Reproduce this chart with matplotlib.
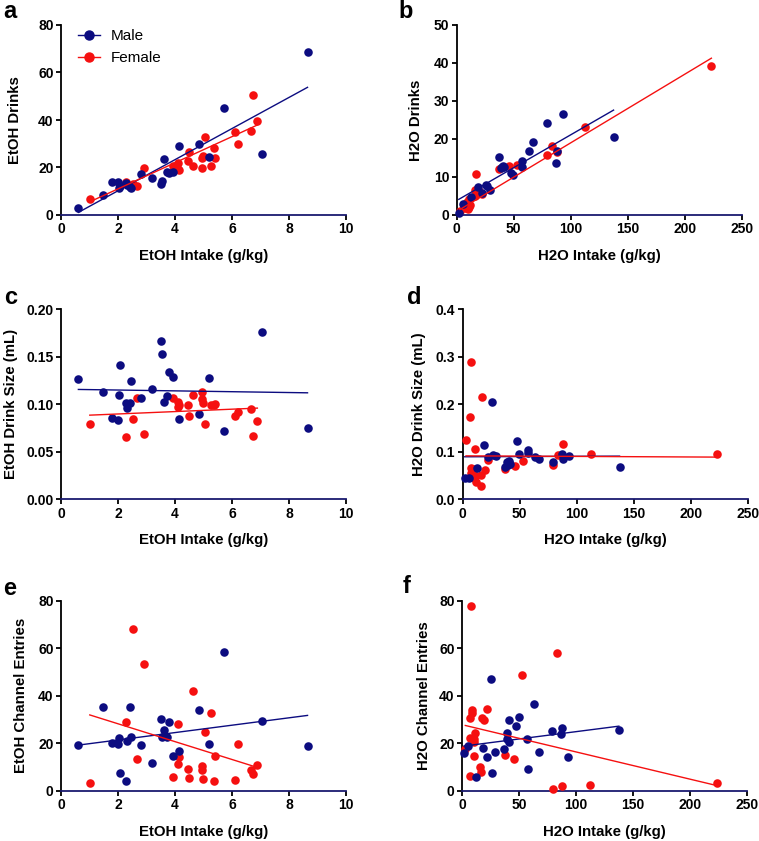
import matplotlib
matplotlib.use("Agg")
import matplotlib.pyplot as plt
import numpy as np

plt.rcParams['font.family'] = ['Liberation Sans', 'DejaVu Sans']

MALE_C = "#0c0c80"
FEMALE_C = "#f51010"

# EtOH intake (g/kg), same animals in panels a, c, e
male_etoh = [0.61, 1.49, 1.80, 2.00, 2.02, 2.07, 2.27, 2.33, 2.41, 2.47, 2.82, 3.19,
             3.51, 3.56, 3.63, 3.73, 3.80, 3.93, 4.14, 4.83, 5.18, 5.71, 7.04, 8.65]
female_etoh = [1.01, 2.27, 2.53, 2.67, 2.90, 3.94, 4.09, 4.12, 4.15, 4.44, 4.50, 4.62,
               4.94, 4.96, 4.99, 5.04, 5.26, 5.36, 5.42, 6.11, 6.20, 6.68, 6.75, 6.89]

male_etoh_drinks = [3.1, 8.3, 13.8, 14.0, 11.5, 12.4, 13.3, 12.5, 11.6, 11.4, 17.1, 15.7,
                    12.9, 14.3, 23.4, 18.2, 17.7, 18.0, 29.1, 29.8, 24.6, 44.9, 25.7, 68.8]
female_etoh_drinks = [6.7, 14.0, 12.9, 12.4, 19.8, 20.8, 21.8, 19.5, 19.0, 22.9, 26.5, 20.5,
                      19.8, 24.0, 24.8, 33.0, 20.8, 28.2, 23.9, 35.1, 29.8, 35.4, 50.5, 39.7]

male_etoh_size = [0.127, 0.113, 0.086, 0.083, 0.110, 0.141, 0.101, 0.096, 0.101, 0.124, 0.107, 0.116,
                  0.167, 0.153, 0.102, 0.109, 0.134, 0.129, 0.085, 0.090, 0.128, 0.072, 0.176, 0.075]
female_etoh_size = [0.079, 0.066, 0.085, 0.107, 0.069, 0.107, 0.102, 0.097, 0.099, 0.099, 0.088, 0.110,
                    0.113, 0.106, 0.101, 0.079, 0.099, 0.099, 0.100, 0.088, 0.092, 0.095, 0.067, 0.082]

male_etoh_entries = [19.4, 35.4, 19.9, 19.6, 22.0, 7.3, 4.2, 20.9, 35.2, 22.6, 19.1, 11.5,
                     30.3, 22.5, 25.5, 22.5, 28.8, 14.6, 16.7, 34.1, 19.5, 58.5, 29.5, 18.8]
female_etoh_entries = [3.1, 29.1, 67.9, 13.3, 53.3, 5.6, 11.2, 28.2, 14.3, 9.0, 5.3, 42.1,
                       8.7, 10.5, 5.1, 24.7, 32.7, 4.2, 14.7, 4.4, 19.6, 8.8, 6.9, 10.8]

# H2O intake (g/kg), same animals in panels b, d, f
male_h2o = [1.8, 5.6, 12.3, 18.7, 22.2, 25.5, 26.6, 29.0, 37.2, 39.2, 39.8, 41.0,
            41.3, 47.7, 49.8, 57.4, 57.7, 63.5, 67.3, 79.0, 87.2, 88.1, 93.4, 137.6]
female_h2o = [2.9, 6.7, 7.3, 7.3, 7.6, 8.8, 9.1, 10.2, 10.5, 10.8, 11.4, 16.1,
              16.4, 17.3, 19.3, 21.9, 37.4, 45.9, 52.6, 79.5, 83.3, 87.7, 112.6, 223.4]

male_h2o_drinks = [0.6, 2.9, 4.8, 7.3, 5.7, 7.9, 7.5, 6.6, 15.2, 12.3, 12.5, 12.8,
                   12.7, 11.0, 10.5, 14.3, 12.7, 16.8, 19.3, 24.1, 13.8, 16.9, 26.6, 20.4]
female_h2o_drinks = [1.0, 2.2, 1.8, 2.5, 3.0, 3.5, 2.8, 1.6, 4.3, 2.0, 2.6, 6.6,
                     5.0, 10.9, 6.2, 5.4, 12.2, 13.0, 13.2, 15.7, 18.2, 16.6, 23.2, 39.2]

male_h2o_size = [0.045, 0.044, 0.065, 0.114, 0.090, 0.205, 0.094, 0.091, 0.069, 0.079, 0.072, 0.080,
                 0.075, 0.122, 0.096, 0.104, 0.097, 0.090, 0.085, 0.078, 0.096, 0.085, 0.092, 0.069]
female_h2o_size = [0.124, 0.173, 0.065, 0.055, 0.290, 0.060, 0.063, 0.045, 0.105, 0.050, 0.037, 0.051,
                   0.029, 0.215, 0.062, 0.083, 0.063, 0.071, 0.080, 0.072, 0.094, 0.116, 0.095, 0.096]

male_h2o_entries = [15.7, 18.8, 5.9, 18.1, 14.0, 47.0, 7.6, 16.4, 17.5, 24.1, 21.8, 20.4,
                    29.9, 27.1, 31.2, 21.9, 9.0, 36.5, 16.4, 25.1, 23.9, 26.4, 14.3, 25.4]
female_h2o_entries = [17.7, 22.2, 6.3, 30.5, 77.6, 32.6, 34.0, 20.6, 21.9, 14.7, 24.1, 10.1,
                      7.7, 30.5, 29.6, 34.5, 15.0, 13.3, 48.8, 0.6, 58.1, 1.8, 2.4, 3.1]

# regression lines (slope, intercept)
male_fit = {"a": (6.55, -2.9), "b": (0.173, 3.8), "c": (-0.00044, 0.1159),
            "d": (0.00001, 0.0895), "e": (1.555, 18.25), "f": (0.0616, 18.7)}
female_fit = {"a": (5.5, 0.0), "b": (0.1805, 0.94), "c": (0.00126, 0.0873),
              "d": (-0.000012, 0.0915), "e": (-3.76, 35.7), "f": (-0.1147, 27.8)}

W, H = 759, 841
fig = plt.figure(figsize=(W / 100, H / 100), dpi=100)


def px_axes(left, top, width=285, height=190):
    return fig.add_axes([left / W, (H - top - height) / H, width / W, height / H])


def panel(ax, key, mx, my, fx, fy, xlabel, ylabel, ylab_x, xlim, xticks, ylim, yticks, yfmt):
    ax.scatter(fx, fy, s=38, color=FEMALE_C, linewidths=0, zorder=3, clip_on=False, label="Female")
    ax.scatter(mx, my, s=38, color=MALE_C, linewidths=0, zorder=4, clip_on=False, label="Male")
    for xs, fit, c in ((mx, male_fit[key], MALE_C), (fx, female_fit[key], FEMALE_C)):
        lx = np.array([min(xs), max(xs)])
        ax.plot(lx, fit[0] * lx + fit[1], color=c, lw=1.0, zorder=5)
    ax.set_xlim(*xlim)
    ax.set_ylim(*ylim)
    ax.set_xticks(xticks)
    ax.set_yticks(yticks)
    ax.set_yticklabels([yfmt.format(v) for v in yticks])
    ax.spines["top"].set_visible(False)
    ax.spines["right"].set_visible(False)
    ax.spines["left"].set_linewidth(1.3)
    ax.spines["bottom"].set_linewidth(1.3)
    ax.spines["bottom"].set_color("#1a1a70")
    ax.tick_params(direction="out", length=3.3, width=1.3, labelsize=10, pad=2)
    for t in ax.get_xticklabels() + ax.get_yticklabels():
        t.set_fontweight("bold")
    ax.set_xlabel(xlabel, fontsize=10.8, fontweight="bold", labelpad=9)
    ax.set_ylabel(ylabel, fontsize=10.8, fontweight="bold")
    ax.yaxis.set_label_coords(ylab_x, 0.5)


etoh_x = dict(xlim=(0, 10), xticks=[0, 2, 4, 6, 8, 10])
h2o_x = dict(xlim=(0, 250), xticks=[0, 50, 100, 150, 200, 250])

ax_a = px_axes(61, 25)
panel(ax_a, "a", male_etoh, male_etoh_drinks, female_etoh, female_etoh_drinks,
      "EtOH Intake (g/kg)", "EtOH Drinks", -0.137, ylim=(0, 80), yticks=[0, 20, 40, 60, 80], yfmt="{:.0f}", **etoh_x)

ax_b = px_axes(456.7, 25)
panel(ax_b, "b", male_h2o, male_h2o_drinks, female_h2o, female_h2o_drinks,
      "H2O Intake (g/kg)", "H2O Drinks", -0.118, ylim=(0, 50), yticks=[0, 10, 20, 30, 40, 50], yfmt="{:.0f}", **h2o_x)

ax_c = px_axes(61, 309.3)
panel(ax_c, "c", male_etoh, male_etoh_size, female_etoh, female_etoh_size,
      "EtOH Intake (g/kg)", "EtOH Drink Size (mL)", -0.151, ylim=(0, 0.2),
      yticks=[0, 0.05, 0.10, 0.15, 0.20], yfmt="{:.2f}", **etoh_x)

ax_d = px_axes(462.7, 309.3)
panel(ax_d, "d", male_h2o, male_h2o_size, female_h2o, female_h2o_size,
      "H2O Intake (g/kg)", "H2O Drink Size (mL)", -0.129, ylim=(0, 0.4),
      yticks=[0, 0.1, 0.2, 0.3, 0.4], yfmt="{:.1f}", **h2o_x)

ax_e = px_axes(61, 600.7)
panel(ax_e, "e", male_etoh, male_etoh_entries, female_etoh, female_etoh_entries,
      "EtOH Intake (g/kg)", "EtOH Channel Entries", -0.116, ylim=(0, 80), yticks=[0, 20, 40, 60, 80],
      yfmt="{:.0f}", **etoh_x)

ax_f = px_axes(462, 600.7)
panel(ax_f, "f", male_h2o, male_h2o_entries, female_h2o, female_h2o_entries,
      "H2O Intake (g/kg)", "H2O Channel Entries", -0.109, ylim=(0, 80), yticks=[0, 20, 40, 60, 80],
      yfmt="{:.0f}", **h2o_x)

# legend in panel a: line + marker handles
h_m = plt.Line2D([], [], color=MALE_C, marker="o", markersize=6.5, lw=1.0)
h_f = plt.Line2D([], [], color=FEMALE_C, marker="o", markersize=6.5, lw=1.0)
ax_a.legend([h_m, h_f], ["Male", "Female"], loc="upper left", bbox_to_anchor=(0.012, 1.05),
            frameon=False, fontsize=11, handlelength=1.4, handletextpad=0.75, labelspacing=0.5)

# panel letters
for lab, x, y in (("a", 3, 18), ("b", 398, 18), ("c", 4, 304), ("d", 407, 304), ("e", 3, 595), ("f", 403, 593)):
    fig.text(x / W, 1 - y / H, lab, fontsize=17, fontweight="bold", va="baseline", ha="left")

fig.savefig("out.png", dpi=100)
